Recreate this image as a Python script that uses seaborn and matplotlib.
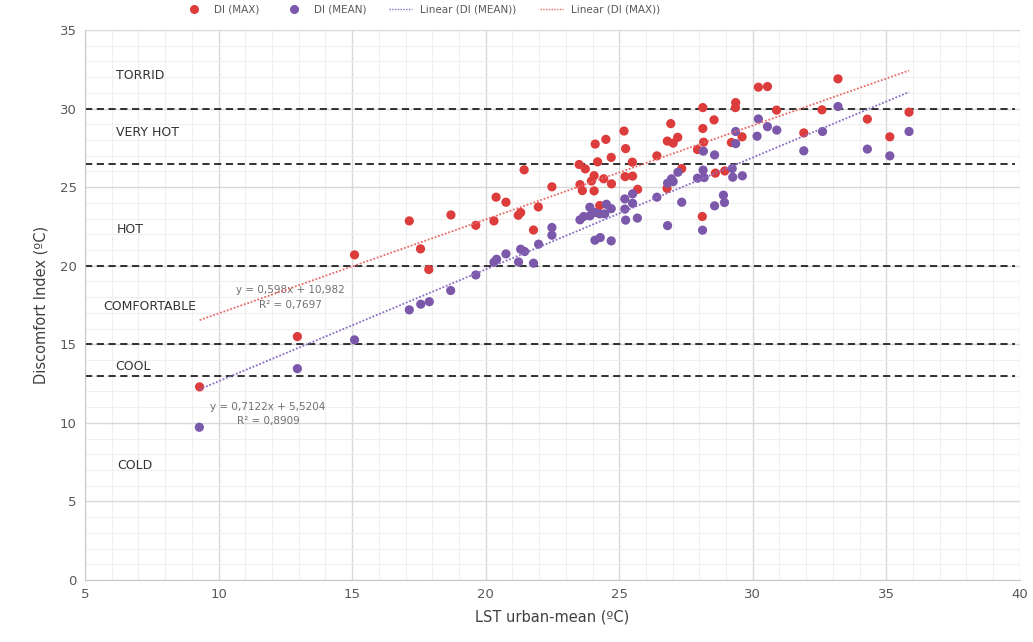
import matplotlib
matplotlib.use("Agg")
import matplotlib.pyplot as plt
from matplotlib.lines import Line2D
from matplotlib.ticker import MultipleLocator
import numpy as np
import pandas as pd
import seaborn as sns

# DI (MAX) points
max_x = [9.29, 12.95, 15.09, 17.14, 17.56, 17.87, 18.70, 19.63, 20.31, 20.39,
         20.76, 21.22, 21.31, 21.44, 21.97, 21.79, 22.48, 23.50, 23.73, 24.10,
         24.50, 24.19, 24.70, 25.18, 25.24, 25.49, 23.53, 23.62, 23.96, 24.06,
         24.06, 24.42, 24.71, 25.22, 25.50, 25.69, 24.27, 26.41, 26.80, 27.02,
         27.19, 26.93, 27.34, 27.93, 26.79, 28.13, 29.36, 29.35, 30.89, 28.55,
         28.13, 28.16, 29.20, 29.60, 28.60, 28.95, 28.11, 30.21, 30.55, 33.19,
         32.59, 34.29, 31.91, 35.13, 35.85]
max_y = [12.29, 15.49, 20.69, 22.85, 21.07, 19.76, 23.23, 22.57, 22.85, 24.36,
         24.04, 23.21, 23.38, 26.10, 23.74, 22.27, 25.02, 26.44, 26.16, 27.74,
         28.04, 26.61, 26.89, 28.57, 27.45, 26.59, 25.16, 24.78, 25.39, 25.73,
         24.76, 25.53, 25.21, 25.67, 25.70, 24.86, 23.83, 26.99, 27.93, 27.80,
         28.17, 29.04, 26.18, 27.39, 24.92, 30.06, 30.38, 30.06, 29.90, 29.28,
         28.73, 27.86, 27.84, 28.20, 25.89, 26.03, 23.13, 31.36, 31.40, 31.89,
         29.92, 29.33, 28.45, 28.20, 29.77]

# DI (MEAN) points
mean_x = [9.28, 12.95, 15.09, 17.14, 17.57, 17.89, 18.69, 19.63, 20.31, 20.41,
          20.76, 21.23, 21.31, 21.46, 21.79, 21.98, 22.48, 22.48, 23.53, 23.67,
          23.90, 24.10, 24.27, 23.90, 24.46, 24.52, 24.70, 24.09, 24.29, 24.70,
          25.21, 25.21, 25.50, 25.50, 25.24, 25.68, 26.41, 26.81, 26.81, 26.96,
          27.02, 27.20, 27.34, 27.93, 28.15, 28.57, 28.14, 28.18, 29.23, 29.25,
          29.61, 29.36, 29.36, 28.90, 28.94, 28.57, 28.12, 30.21, 30.55, 30.90,
          30.16, 31.91, 32.61, 33.19, 34.29, 35.13, 35.85]
mean_y = [9.72, 13.45, 15.28, 17.19, 17.55, 17.71, 18.42, 19.41, 20.22, 20.41,
          20.75, 20.24, 21.05, 20.90, 20.16, 21.37, 22.43, 21.94, 22.92, 23.13,
          23.17, 23.38, 23.30, 23.72, 23.30, 23.91, 23.63, 21.62, 21.79, 21.58,
          23.60, 24.25, 23.97, 24.57, 22.90, 23.03, 24.36, 22.55, 25.25, 25.53,
          25.35, 25.95, 24.04, 25.57, 27.29, 27.05, 26.08, 25.61, 26.18, 25.63,
          25.72, 28.54, 27.77, 24.49, 24.02, 23.81, 22.26, 29.34, 28.85, 28.63,
          28.24, 27.31, 28.54, 30.13, 27.42, 26.99, 28.54]

# trendline equations printed on the chart
fit_max = (0.598, 10.982)
fit_mean = (0.7122, 5.5204)

# comfort zone thresholds and labels
zone_lines = [30, 26.5, 20, 15, 13]
zone_names = ["TORRID", "VERY HOT", "HOT", "COMFORTABLE", "COOL", "COLD"]
zone_label_x = [6.15, 6.15, 6.2, 5.7, 6.15, 6.2]
zone_label_y = [32.1, 28.5, 22.3, 17.4, 13.6, 7.3]

red = "#dd3c3c"
purple = "#7c58aa"

df_max = pd.DataFrame({"x": max_x, "y": max_y})
df_mean = pd.DataFrame({"x": mean_x, "y": mean_y})

sns.set_style("white")
plt.rcParams["font.family"] = ["DejaVu Sans"]

fig = plt.figure(figsize=(10.33, 6.42), dpi=100)
ax = fig.add_axes([0.0823, 0.0966, 0.905, 0.8567])

ax.set_xlim(5, 40)
ax.set_ylim(0, 35)
ax.xaxis.set_major_locator(MultipleLocator(5))
ax.yaxis.set_major_locator(MultipleLocator(5))
ax.xaxis.set_minor_locator(MultipleLocator(1))
ax.yaxis.set_minor_locator(MultipleLocator(1))
ax.grid(which="major", color="#d9d9d9", linewidth=1.0)
ax.grid(which="minor", color="#efefef", linewidth=0.8)
ax.set_axisbelow(True)
for s in ["top", "right"]:
    ax.spines[s].set_visible(False)
for s in ["left", "bottom"]:
    ax.spines[s].set_color("#c8c8c8")
ax.tick_params(which="both", length=0, colors="#595959", labelsize=9.5, pad=6)

for yv in zone_lines:
    ax.axhline(yv, xmin=0.0, xmax=0.995, color="#222222", linestyle=(0, (4, 2.5)),
               linewidth=1.3, zorder=2)

sns.scatterplot(data=df_max, x="x", y="y", color=red, s=44, edgecolor="none",
                ax=ax, zorder=3)
sns.scatterplot(data=df_mean, x="x", y="y", color=purple, s=44, edgecolor="none",
                ax=ax, zorder=3)

xr = np.array([min(max_x), max(max_x)])
ax.plot(xr, fit_max[0] * xr + fit_max[1], color="#e86a66", linestyle=(0, (1, 1)),
        linewidth=1.3, zorder=4)
xr2 = np.array([min(mean_x), max(mean_x)])
ax.plot(xr2, fit_mean[0] * xr2 + fit_mean[1], color="#8a6cc4", linestyle=(0, (1, 1)),
        linewidth=1.3, zorder=4)

for name, lx, ly in zip(zone_names, zone_label_x, zone_label_y):
    ax.text(lx, ly, name, fontsize=9, color="#333333", va="center", ha="left")

ax.text(12.7, 18.45, "y = 0,598x + 10,982", fontsize=7.5, color="#707070", ha="center", va="center")
ax.text(12.7, 17.5, "R² = 0,7697", fontsize=7.5, color="#707070", ha="center", va="center")
ax.text(11.85, 11.0, "y = 0,7122x + 5,5204", fontsize=7.5, color="#707070", ha="center", va="center")
ax.text(11.85, 10.1, "R² = 0,8909", fontsize=7.5, color="#707070", ha="center", va="center")

ax.set_xlabel("LST urban-mean (ºC)", fontsize=10.5, color="#404040", labelpad=6)
ax.set_ylabel("Discomfort Index (ºC)", fontsize=10.5, color="#404040", labelpad=8)

handles = [
    Line2D([], [], marker="o", linestyle="none", color=red, markersize=5.5),
    Line2D([], [], marker="o", linestyle="none", color=purple, markersize=5.5),
    Line2D([], [], color="#8a6cc4", linestyle=(0, (1, 1)), linewidth=1.0),
    Line2D([], [], color="#e86a66", linestyle=(0, (1, 1)), linewidth=1.0),
]
labels = ["DI (MAX)", "DI (MEAN)", "Linear (DI (MEAN))", "Linear (DI (MAX))"]
fig.legend(handles, labels, loc="upper center", bbox_to_anchor=(0.408, 1.007), ncol=4,
           frameon=False, fontsize=7.5, labelcolor="#595959", handlelength=2.2,
           columnspacing=2.2, handletextpad=0.8)

fig.savefig("out.png", dpi=100)
